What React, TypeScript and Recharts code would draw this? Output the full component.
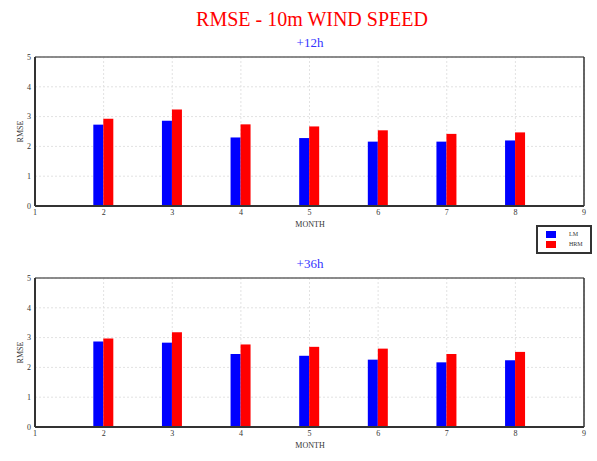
import { BarChart, Bar, XAxis, YAxis, CartesianGrid, ReferenceLine } from 'recharts';

const months = [2, 3, 4, 5, 6, 7, 8];
const monthTicks = [1, 2, 3, 4, 5, 6, 7, 8, 9];
const rmseTicks = [0, 1, 2, 3, 4, 5];

const lm12 = [2.73, 2.86, 2.3, 2.28, 2.16, 2.16, 2.2];
const hrm12 = [2.93, 3.24, 2.74, 2.67, 2.54, 2.42, 2.47];
const lm36 = [2.87, 2.83, 2.45, 2.39, 2.26, 2.17, 2.24];
const hrm36 = [2.97, 3.18, 2.77, 2.69, 2.63, 2.45, 2.52];

const serif = '"Liberation Serif", "DejaVu Serif", serif';
const tickStyle = { fontSize: 8, fill: '#333', fontFamily: serif };

function Panel({ top, title, lm, hrm }: { top: number; title: string; lm: number[]; hrm: number[] }) {
  const data = months.map((m, i) => ({ month: m, lm: lm[i], hrm: hrm[i] }));
  return (
    <>
      <div
        style={{
          position: 'absolute',
          left: 310,
          top: top - 21,
          transform: 'translateX(-50%)',
          color: '#3333ff',
          fontFamily: serif,
          fontSize: 13,
          lineHeight: '14px',
        }}
      >
        {title}
      </div>
      <div style={{ position: 'absolute', left: 0, top: top - 7 }}>
        <BarChart
          width={597}
          height={180}
          data={data}
          barGap={0}
          barSize={10}
          margin={{ top: 7, right: 13, bottom: 4, left: 0 }}
        >
          <CartesianGrid stroke="#e2e2e2" strokeDasharray="2 2" />
          <XAxis
            dataKey="month"
            type="number"
            domain={[1, 9]}
            ticks={monthTicks}
            tick={tickStyle}
            tickLine={false}
            tickSize={2}
            tickMargin={1}
            axisLine={{ stroke: '#333', strokeWidth: 2 }}
            height={20}
          />
          <YAxis
            domain={[0, 5]}
            ticks={rmseTicks}
            tick={tickStyle}
            tickLine={false}
            tickSize={2}
            tickMargin={2}
            axisLine={{ stroke: '#333', strokeWidth: 2 }}
            width={35}
            label={{
              value: 'RMSE',
              angle: -90,
              position: 'insideLeft',
              offset: 20,
              style: { textAnchor: 'middle', fontSize: 8, fill: '#333', fontFamily: serif },
            }}
          />
          <ReferenceLine y={5} stroke="#666" strokeWidth={1.5} />
          <ReferenceLine x={9} stroke="#333" strokeWidth={1.5} />
          <Bar dataKey="lm" fill="#0000ff" isAnimationActive={false} />
          <Bar dataKey="hrm" fill="#ff0000" isAnimationActive={false} />
        </BarChart>
      </div>
      <div
        style={{
          position: 'absolute',
          left: 310,
          top: top + 163,
          transform: 'translateX(-50%)',
          color: '#333',
          fontFamily: serif,
          fontSize: 8,
          lineHeight: '9px',
        }}
      >
        MONTH
      </div>
    </>
  );
}

export default function App() {
  return (
    <div
      style={{
        position: 'absolute',
        left: 0,
        top: 0,
        width: 597,
        height: 461,
        background: '#fff',
        overflow: 'hidden',
      }}
    >
      <div
        style={{
          position: 'absolute',
          left: 312,
          top: 8,
          transform: 'translateX(-50%)',
          color: '#ff0000',
          fontFamily: serif,
          fontSize: 20,
          lineHeight: '22px',
          whiteSpace: 'nowrap',
        }}
      >
        RMSE - 10m WIND SPEED
      </div>
      <Panel top={57} title="+12h" lm={lm12} hrm={hrm12} />
      <Panel top={278} title="+36h" lm={lm36} hrm={hrm36} />
      <div
        style={{
          position: 'absolute',
          left: 536,
          top: 225,
          width: 52,
          height: 25,
          border: '2px solid #333',
          fontFamily: serif,
          fontSize: 6,
          color: '#333',
        }}
      >
        <div style={{ position: 'absolute', left: 8, top: 4, width: 10, height: 7, background: '#0000ff' }} />
        <div style={{ position: 'absolute', left: 31, top: 4, lineHeight: '7px' }}>LM</div>
        <div style={{ position: 'absolute', left: 8, top: 14, width: 10, height: 7, background: '#ff0000' }} />
        <div style={{ position: 'absolute', left: 31, top: 14, lineHeight: '7px' }}>HRM</div>
      </div>
    </div>
  );
}
